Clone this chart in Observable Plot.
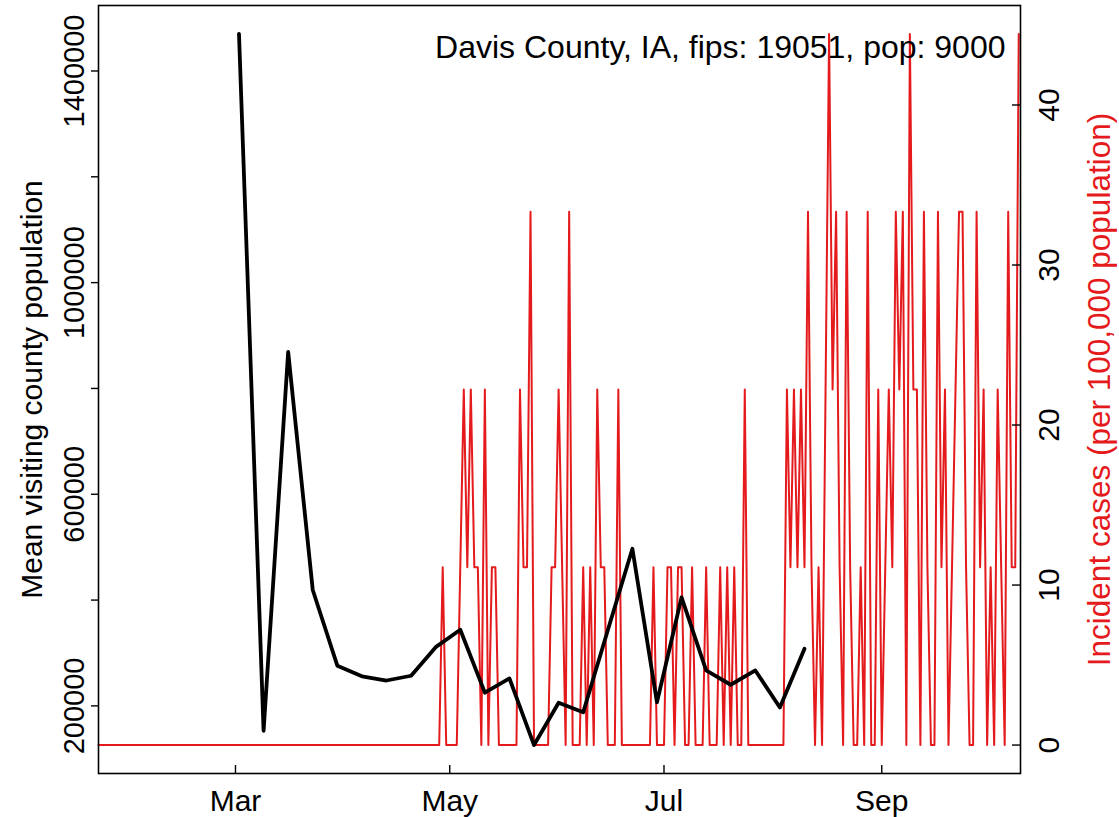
<!DOCTYPE html>
<html>
<head>
<meta charset="utf-8">
<script src="https://cdn.jsdelivr.net/npm/d3@7"></script>
<script src="https://cdn.jsdelivr.net/npm/@observablehq/plot@0.6"></script>
<style>
  body { margin: 0; background: #ffffff; }
  #wrap { position: relative; width: 1119px; height: 817px; background: #ffffff; }
  #wrap svg { position: absolute; left: 0; top: 0; }
</style>
</head>
<body>
<div id="wrap"></div>
<script>
// ---------- texts ----------
const titleText = ["Davis County, IA, fips: 19051, pop: 9000"];
const leftAxisTitle = ["Mean visiting county population"];
const rightAxisTitle = ["Incident cases (per 100,000 population)"];

// ---------- black series: weekly mean visiting county population ----------
const visitDates = [
  "2020-03-02","2020-03-09","2020-03-16","2020-03-23","2020-03-30","2020-04-06",
  "2020-04-13","2020-04-20","2020-04-27","2020-05-04","2020-05-11","2020-05-18",
  "2020-05-25","2020-06-01","2020-06-08","2020-06-15","2020-06-22","2020-06-29",
  "2020-07-06","2020-07-13","2020-07-20","2020-07-27","2020-08-03","2020-08-10"
];
const visitValues = [
  1470000, 153000, 869000, 419000, 276000, 256000,
  248000, 257000, 311000, 344000, 225000, 252000,
  126000, 206000, 188000, 343000, 497000, 207000,
  405000, 267000, 240000, 267000, 197000, 308000
];

// ---------- red series: daily incident cases per 100,000, from 2020-01-22 ----------
const caseStartDate = "2020-01-22";
const caseRates = [
  0,0,0,0,0,0,0,0,0,0,
  0,0,0,0,0,0,0,0,0,0,
  0,0,0,0,0,0,0,0,0,0,
  0,0,0,0,0,0,0,0,0,0,
  0,0,0,0,0,0,0,0,0,0,
  0,0,0,0,0,0,0,0,0,0,
  0,0,0,0,0,0,0,0,0,0,
  0,0,0,0,0,0,0,0,0,0,
  0,0,0,0,0,0,0,0,0,0,
  0,0,0,0,0,0,0,
  0,11.11,0,0,0,0,11.11,22.22,11.11,22.22,
  11.11,11.11,0,22.22,0,11.11,11.11,0,0,0,
  0,0,0,22.22,11.11,11.11,33.33,0,0,0,
  0,0,11.11,11.11,22.22,11.11,0,33.33,0,0,
  0,11.11,0,11.11,0,22.22,11.11,11.11,0,0,
  0,22.22,0,0,0,0,0,0,0,0,
  0,11.11,0,0,0,11.11,11.11,0,11.11,11.11,
  0,0,11.11,0,0,0,11.11,0,0,0,
  11.11,0,11.11,0,11.11,0,0,22.22,0,0,
  0,0,0,0,0,0,0,0,0,22.22,
  11.11,22.22,11.11,22.22,11.11,33.33,11.11,0,11.11,0,
  22.22,44.44,22.22,33.33,11.11,0,33.33,11.11,0,0,
  11.11,0,33.33,0,0,22.22,0,11.11,22.22,11.11,
  33.33,22.22,33.33,0,44.44,22.22,22.22,0,33.33,11.11,
  0,0,33.33,11.11,22.22,0,11.11,22.22,33.33,33.33,
  11.11,0,0,33.33,11.11,22.22,0,11.11,0,22.22,
  11.11,0,33.33,11.11,11.11,44.44
];

// ---------- axes ----------
const xDomain = ["2020-01-22T00:00:00Z", "2020-10-10T12:00:00Z"];
const monthTicks = ["2020-03-01","2020-05-01","2020-07-01","2020-09-01"];
const leftTicks = [200000, 400000, 600000, 800000, 1000000, 1200000, 1400000];
const leftLabeled = [200000, 600000, 1000000, 1400000];
const rightTicks = [0, 10, 20, 30, 40];

// ---------- build tables ----------
const visits = visitDates.map((d, i) => ({date: new Date(d + "T00:00:00Z"), value: visitValues[i]}));
const start = new Date(caseStartDate + "T00:00:00Z");
const cases = caseRates.map((r, i) => ({date: d3.utcDay.offset(start, i), rate: r}));
const monthTickDates = monthTicks.map(d => new Date(d + "T00:00:00Z"));

// R-style 4% padded domains
function pad4(lo, hi) { const p = 0.04 * (hi - lo); return [lo - p, hi + p]; }
const leftDomain = pad4(d3.min(visitValues), d3.max(visitValues));
const rightDomain = pad4(0, d3.max(caseRates));

const FONT = "'Liberation Sans', Arial, Helvetica, sans-serif";
const RED = "#E41A1C";
const W = 1119, H = 817;
const M = {left: 98, right: 99, top: 5, bottom: 44};
const frameW = W - M.left - M.right;
const frameH = H - M.top - M.bottom;

const common = {
  width: W, height: H,
  marginLeft: M.left, marginRight: M.right, marginTop: M.top, marginBottom: M.bottom,
  x: {type: "utc", domain: xDomain.map(d => new Date(d)), label: null}
};

// bottom layer: frame, red series, right axis, x axis
const plotA = Plot.plot({
  ...common,
  style: {background: "white", fontFamily: FONT, color: "black", overflow: "visible"},
  y: {domain: rightDomain, label: null},
  marks: [
    Plot.line(cases, {x: "date", y: "rate", stroke: RED, strokeWidth: 2}),
    Plot.tickY(rightTicks, {y: d => d, insetLeft: frameW - 8, stroke: "black", strokeWidth: 1.4}),
    Plot.axisY({anchor: "right", ticks: rightTicks, tickSize: 0, tickPadding: 38, tickRotate: -90,
                fontSize: 30, fill: "black", label: null}),
    Plot.tickX(monthTickDates, {x: d => d, insetTop: frameH - 8, stroke: "black", strokeWidth: 1.4}),
    Plot.axisX({ticks: monthTickDates, tickSize: 0, tickPadding: 16, tickFormat: d3.utcFormat("%b"),
                fontSize: 30, fill: "black", label: null}),
    Plot.text(rightAxisTitle, {frameAnchor: "right", dx: 89, rotate: -90, textAnchor: "middle",
                               lineAnchor: "bottom", fill: RED, fontSize: 31.5}),
    Plot.frame({stroke: "black", strokeWidth: 1.6})
  ]
});

// top layer: black series, left axis, titles
const plotB = Plot.plot({
  ...common,
  x: {...common.x, axis: null},
  style: {background: "transparent", fontFamily: FONT, color: "black", overflow: "visible"},
  y: {domain: leftDomain, label: null},
  marks: [
    Plot.line(visits, {x: "date", y: "value", stroke: "black", strokeWidth: 3.8}),
    Plot.axisY({anchor: "left", ticks: leftTicks, tickSize: 7, tickPadding: 8, tickRotate: -90,
                tickFormat: d => leftLabeled.includes(d) ? String(d) : "",
                fontSize: 29, strokeWidth: 1.4, label: null}),
    Plot.text(leftAxisTitle, {frameAnchor: "left", dx: -78, rotate: -90, textAnchor: "middle",
                              lineAnchor: "top", fill: "black", fontSize: 30}),
    Plot.text(titleText, {frameAnchor: "top-right", dx: -15, dy: 52, textAnchor: "end",
                          lineAnchor: "bottom", fill: "black", fontSize: 32})
  ]
});

const wrap = document.getElementById("wrap");
wrap.appendChild(plotA);
wrap.appendChild(plotB);
</script>
</body>
</html>
